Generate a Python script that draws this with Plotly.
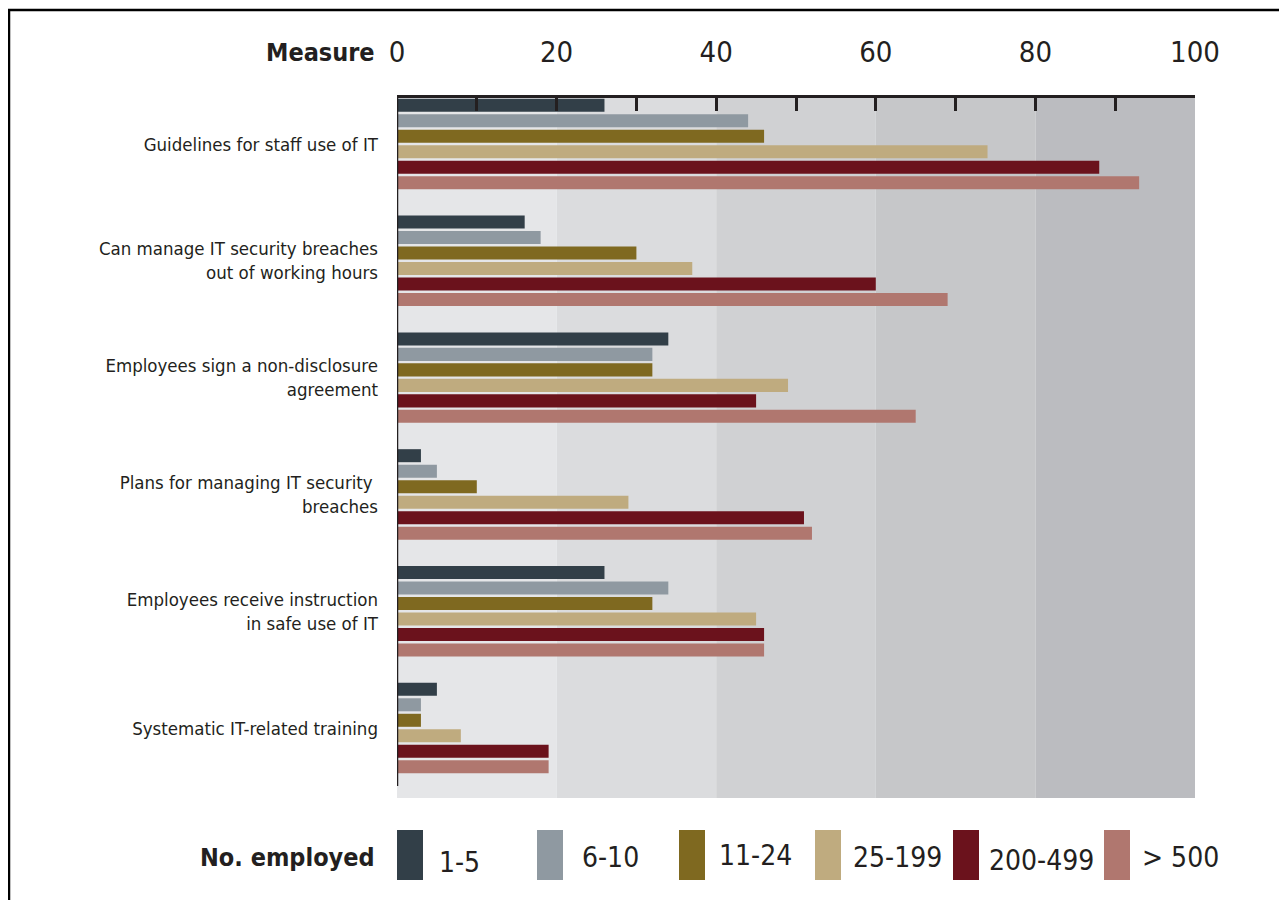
import plotly.graph_objects as go

categories = [
    "Guidelines for staff use of IT",
    "Can manage IT security breaches<br>out of working hours",
    "Employees sign a non-disclosure<br>agreement",
    "Plans for managing IT security <br>breaches",
    "Employees receive instruction<br>in safe use of IT",
    "Systematic IT-related training",
]
series_names = ["1-5", "6-10", "11-24", "25-199", "200-499", "> 500"]
series_colors = ["#323f48", "#8f99a1", "#7f6920", "#bfab7f", "#6b121c", "#b0776f"]
v_1_5 = [26, 16, 34, 3, 26, 5]
v_6_10 = [44, 18, 32, 5, 34, 3]
v_11_24 = [46, 30, 32, 10, 32, 3]
v_25_199 = [74, 37, 49, 29, 45, 8]
v_200_499 = [88, 60, 45, 51, 46, 19]
v_500 = [93, 69, 65, 52, 46, 19]
series_values = [v_1_5, v_6_10, v_11_24, v_25_199, v_200_499, v_500]

band_edges = [0, 20, 40, 60, 80, 100]
band_colors = ["#e5e6e8", "#dbdcde", "#d0d1d3", "#c6c7c9", "#bbbcc0"]

# page has an 8px body margin; work in screen pixels and convert
OFF = 8
W, H = 1279, 892
L, R, T, B = 397, 1195, 98, 798  # screen pixels of plot area
PW, PH = R - L, B - T

def px(x):
    return (x - L) / PW

def py(y):
    return (B - y) / PH

FONT = "Liberation Sans Narrow, DejaVu Sans Condensed, Arial Narrow, sans-serif"
INK = "#231f20"

fig = go.Figure()
ypos = list(range(len(categories)))
for name, color, vals in zip(series_names, series_colors, series_values):
    fig.add_trace(go.Bar(
        y=ypos, x=vals, name=name, orientation="h",
        marker=dict(color=color, line=dict(width=0)),
        showlegend=False,
    ))

shapes = []
for i, c in enumerate(band_colors):
    shapes.append(dict(type="rect", xref="x", yref="paper", x0=band_edges[i], x1=band_edges[i + 1],
                       y0=0, y1=1, fillcolor=c, line=dict(width=0), layer="below"))
# left axis line (partial)
shapes.append(dict(type="line", xref="x", yref="y", x0=0, x1=0, y0=-0.394, y1=5.497,
                   line=dict(color=INK, width=2.5)))
# frame
shapes.append(dict(type="line", xref="paper", yref="paper", x0=px(9), x1=px(9), y0=py(10), y1=py(905),
                   line=dict(color="black", width=2.5)))
shapes.append(dict(type="line", xref="paper", yref="paper", x0=px(8), x1=px(1295), y0=py(10), y1=py(10),
                   line=dict(color="black", width=2.5)))

annotations = [
    dict(text="<b>Measure</b>", xref="paper", yref="paper", x=px(377), y=py(52), xanchor="right",
         yanchor="middle", showarrow=False, font=dict(family=FONT, size=25, color=INK)),
    dict(text="<b>No. employed</b>", xref="paper", yref="paper", x=px(377), y=py(857), xanchor="right",
         yanchor="middle", showarrow=False, font=dict(family=FONT, size=25, color=INK)),
]

sw_left = [397, 537, 679, 815, 953, 1104]
lab_left = [437, 580, 717, 851, 987, 1140]
lab_y = [862, 858, 855, 857, 860, 857]
for i, (name, color) in enumerate(zip(series_names, series_colors)):
    shapes.append(dict(type="rect", xref="paper", yref="paper", x0=px(sw_left[i]), x1=px(sw_left[i] + 26),
                       y0=py(880), y1=py(830), fillcolor=color, line=dict(width=0)))
    annotations.append(dict(text=name, xref="paper", yref="paper", x=px(lab_left[i]), y=py(lab_y[i]),
                            xanchor="left", yanchor="middle", showarrow=False,
                            font=dict(family=FONT, size=28, color=INK)))

fig.update_layout(
    width=W, height=H,
    margin=dict(l=L - OFF, r=W - (R - OFF), t=T - OFF, b=H - (B - OFF), pad=0),
    paper_bgcolor="white", plot_bgcolor="white",
    barmode="group", bargap=0.204, bargroupgap=0.16,
    shapes=shapes, annotations=annotations,
    xaxis=dict(
        side="top", range=[0, 100], tickvals=[0, 20, 40, 60, 80, 100],
        ticks="inside", ticklen=13, tickwidth=2.5, tickcolor=INK,
        minor=dict(dtick=10, ticks="inside", ticklen=13, tickwidth=2.5, tickcolor=INK, showgrid=False),
        showline=True, linewidth=2.5, linecolor=INK, showgrid=False, zeroline=False,
        tickfont=dict(family=FONT, size=29, color=INK), ticklabelstandoff=22,
    ),
    yaxis=dict(
        range=[5.599, -0.394], tickvals=ypos, ticktext=categories,
        showline=False, showgrid=False, zeroline=False, ticks="",
        tickfont=dict(family=FONT, size=18.5, color=INK), ticklabelstandoff=18,
    ),
)

fig.write_html("out.html")
